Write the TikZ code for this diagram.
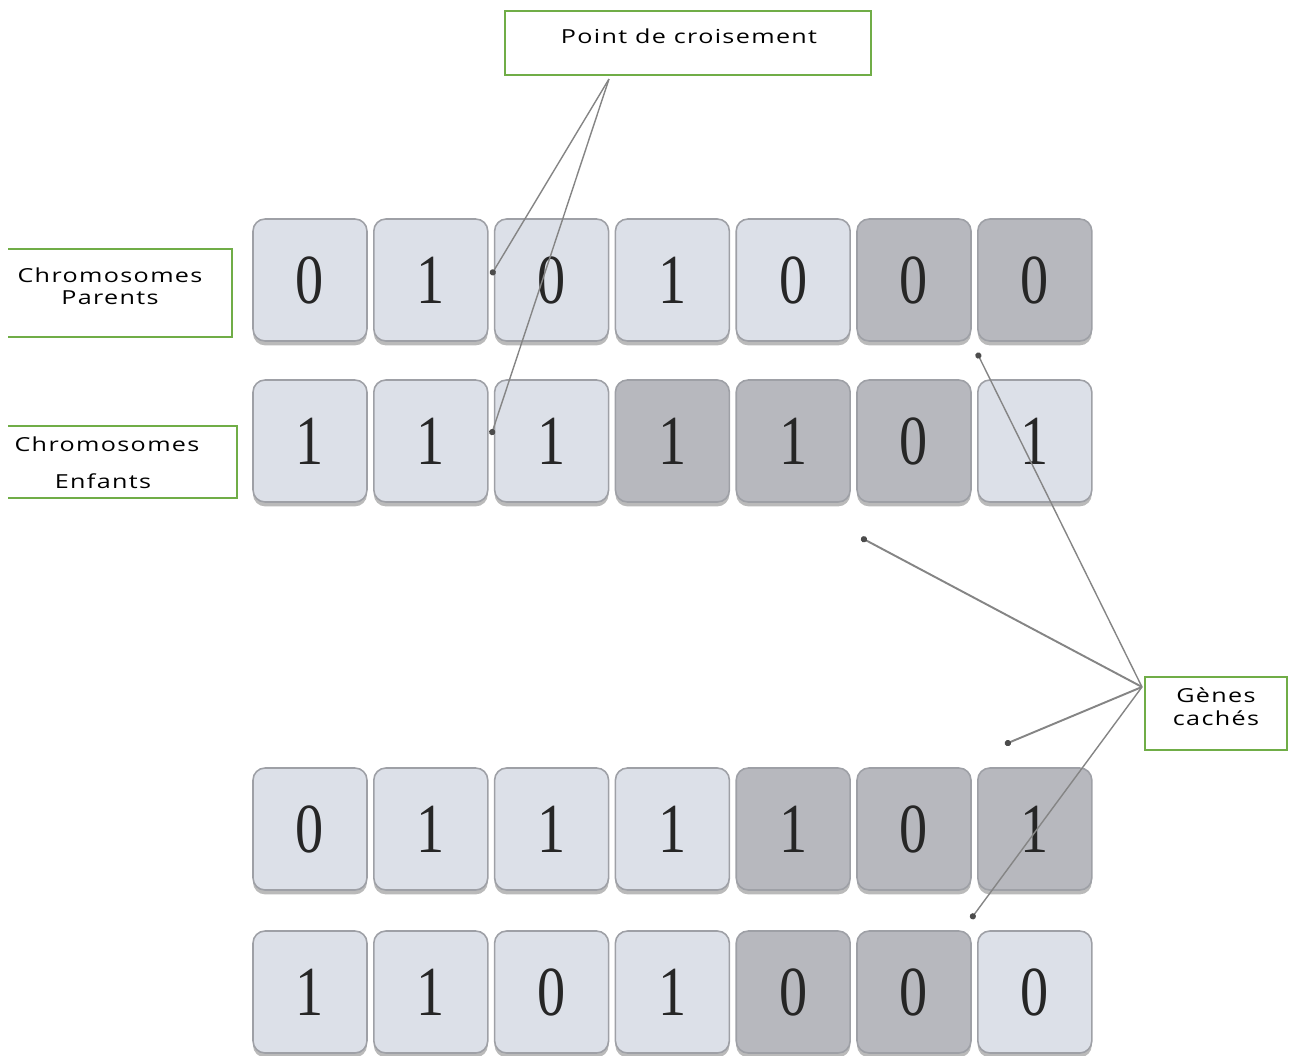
\documentclass[tikz,border=0pt]{standalone}
\usepackage{fontspec}
\setmainfont{Liberation Serif}
\newfontfamily\digitfont[FakeStretch=0.8]{Liberation Serif}
\newfontfamily\labelfont[LetterSpace=7,FakeStretch=1.3]{Open Sans}
\usetikzlibrary{calc,arrows.meta,shadows}

\definecolor{celllight}{HTML}{DCE0E8}
\definecolor{celldark}{HTML}{B7B8BE}
\definecolor{cellrim}{HTML}{9EA0A6}
\definecolor{boxgreen}{HTML}{70AD47}
\definecolor{pointergray}{HTML}{858585}

\begin{document}
\begin{tikzpicture}[x=0.02cm,y=-0.02cm,
  gene/.style={rectangle, rounded corners=0.24cm, draw=cellrim, line width=0.9pt,
    minimum width=2.28cm, minimum height=2.44cm, inner sep=0pt,
    font=\digitfont\fontsize{40}{42}\selectfont, text=black!85,
    drop shadow={shadow xshift=0pt, shadow yshift=-2.5pt, fill=black!60, opacity=0.45}},
  light/.style={gene, fill=celllight},
  dark/.style={gene, fill=celldark},
  tag/.style={font=\labelfont\fontsize{11}{13}\selectfont, inner sep=0pt},
  frame/.style={draw=boxgreen, line width=1.2pt},
  pointer/.style={draw=pointergray, line width=0.8pt,
    -{Circle[length=3.5pt, color=black!70, fill=black!70]}},
  heavy/.style={line width=1.1pt},
]
\useasboundingbox (0,0) rectangle (1295,1055);

% the four chromosomes, seven genes each
\foreach \d/\s [count=\c] in {0/light,1/light,0/light,1/light,0/light,0/dark,0/dark}
  \node[\s] (r1c\c) at ({310+120.8*(\c-1)},280) {\d};
\foreach \d/\s [count=\c] in {1/light,1/light,1/light,1/dark,1/dark,0/dark,1/light}
  \node[\s] (r2c\c) at ({310+120.8*(\c-1)},441) {\d};
\foreach \d/\s [count=\c] in {0/light,1/light,1/light,1/light,1/dark,0/dark,1/dark}
  \node[\s] (r3c\c) at ({310+120.8*(\c-1)},829) {\d};
\foreach \d/\s [count=\c] in {1/light,1/light,0/light,1/light,0/dark,0/dark,0/light}
  \node[\s] (r4c\c) at ({310+120.8*(\c-1)},992) {\d};

% crossover point label
\node[frame, minimum width=7.32cm, minimum height=1.28cm, inner sep=0pt] (pcbox) at (688,43) {};
\node[tag] (pctext) at (689,36) {Point de croisement};

% parent / child labels (open on the left)
\draw[frame] (8,249) -- (232,249) -- (232,337) -- (8,337);
\node[tag] (par1) at (110,275) {Chromosomes};
\node[tag] (par2) at (110,298) {Parents};
\draw[frame] (8,426) -- (237,426) -- (237,498) -- (8,498);
\node[tag] (enf1) at (107,444) {Chromosomes};
\node[tag] (enf2) at (103,481) {Enfants};

% hidden genes label
\node[frame, minimum width=2.84cm, minimum height=1.46cm, inner sep=0pt] (gcbox) at (1216,713.5) {};
\node[tag] (gc1) at (1216,695) {Gènes};
\node[tag] (gc2) at (1216,718) {cachés};

% pointers
\coordinate (pcsrc) at ($(pcbox.south west)+(105,3)$);
\coordinate (gcsrc) at ($(gcbox.north west)+(-2,11)$);
\draw[pointer] (pcsrc) -- ($(r1c2.east)!0.5!(r1c3.west)+(0,-5)$);
\draw[pointer] (pcsrc) -- ($(r2c2.east)!0.5!(r2c3.west)+(0,-6)$);
\draw[pointer] (gcsrc) -- ($(r1c7.south west)+(0,11)$);
\draw[pointer, heavy] (gcsrc) -- ($(r2c6.south west)+(5,35)$);
\draw[pointer, heavy] (gcsrc) -- ($(r3c7.north west)+(28,-23)$);
\draw[pointer] (gcsrc) -- ($(r3c7.south west)+(-6,28)$);
\end{tikzpicture}
\end{document}
